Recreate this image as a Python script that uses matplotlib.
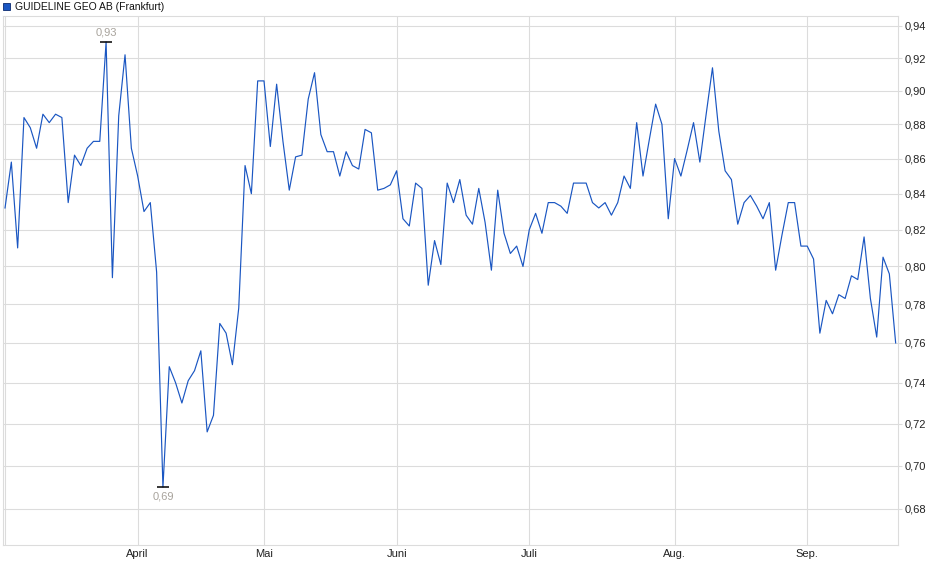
import numpy as np
import pandas as pd
import matplotlib
matplotlib.use("Agg")
import matplotlib.pyplot as plt
from matplotlib.ticker import FixedLocator, FuncFormatter, NullLocator

plt.rcParams['font.family'] = ['Liberation Sans', 'DejaVu Sans']

# trading days in Frankfurt, Mar 3 - Sep 19 2025 (holidays removed)
days = pd.bdate_range("2025-03-03", "2025-09-19")
days = days.drop(pd.to_datetime(["2025-04-18", "2025-04-21", "2025-05-01"]))

close = [
    0.832, 0.858, 0.810, 0.884, 0.878, 0.866, 0.886, 0.881, 0.886, 0.884,
    0.835, 0.862, 0.856, 0.866, 0.870, 0.870, 0.930, 0.794, 0.885, 0.922,
    0.866, 0.850, 0.830, 0.835, 0.797, 0.690, 0.748, 0.740, 0.730, 0.741,
    0.746, 0.756, 0.716, 0.724, 0.770, 0.765, 0.749, 0.778, 0.856, 0.840,
    0.906, 0.906, 0.867, 0.904, 0.870, 0.842, 0.861, 0.862, 0.895, 0.911,
    0.874, 0.864, 0.864, 0.850, 0.864, 0.856, 0.854, 0.877, 0.875, 0.842,
    0.843, 0.845, 0.853, 0.826, 0.822, 0.846, 0.843, 0.790, 0.814, 0.801,
    0.846, 0.835, 0.848, 0.828, 0.823, 0.843, 0.824, 0.798, 0.842, 0.818,
    0.807, 0.811, 0.800, 0.820, 0.829, 0.818, 0.835, 0.835, 0.833, 0.829,
    0.846, 0.846, 0.846, 0.835, 0.832, 0.835, 0.828, 0.835, 0.850, 0.843,
    0.881, 0.850, 0.871, 0.892, 0.880, 0.826, 0.860, 0.850, 0.865, 0.881,
    0.858, 0.886, 0.914, 0.876, 0.853, 0.848, 0.823, 0.835, 0.839, 0.833,
    0.826, 0.835, 0.798, 0.817, 0.835, 0.835, 0.811, 0.811, 0.804, 0.765,
    0.782, 0.775, 0.785, 0.783, 0.795, 0.793, 0.816, 0.783, 0.763, 0.805,
    0.796, 0.760,
]

month_names = ["April", "Mai", "Juni", "Juli", "Aug.", "Sep."]
y_ticks = [0.68, 0.70, 0.72, 0.74, 0.76, 0.78, 0.80, 0.82, 0.84, 0.86, 0.88, 0.90, 0.92, 0.94]

close = np.array(close)
idx = np.arange(len(close))
s = pd.Series(close, index=days)

# first trading day of each month -> position on the index axis
first_days = s.groupby(s.index.to_period("M")).head(1).index
month_pos = [days.get_loc(d) for d in first_days[1:]]

grid_col = '#dcdcdc'
line_col = '#1a56c2'

fig = plt.figure(figsize=(9.4, 5.79), dpi=100)
ax = fig.add_axes([3 / 940, 1 - 545 / 579, 895 / 940, 529 / 579])

ax.plot(idx, close, color=line_col, lw=0.85, zorder=3)

ax.set_yscale('log')
ax.set_ylim(0.6637, 0.9463)
ax.set_xlim(-0.32, 141.37)

ax.yaxis.set_major_locator(FixedLocator(y_ticks))
ax.yaxis.set_minor_locator(NullLocator())
ax.yaxis.set_major_formatter(FuncFormatter(lambda v, p: f"{v:.2f}".replace('.', ',')))
ax.yaxis.tick_right()
ax.tick_params(axis='y', length=3, width=0.8, color=grid_col, pad=2, labelsize=8, labelcolor='#222222')

ax.set_xticks(month_pos)
ax.set_xticklabels(month_names)
ax.tick_params(axis='x', length=0, pad=3, labelsize=8, labelcolor='#222222')

ax.grid(True, color=grid_col, lw=0.8)
ax.axvline(0, color=grid_col, lw=0.8)
for sp in ax.spines.values():
    sp.set_color(grid_col)
    sp.set_linewidth(0.8)

# max / min markers
i_max, i_min = int(close.argmax()), int(close.argmin())
for i, off, va in [(i_max, 3, 'bottom'), (i_min, -3, 'top')]:
    ax.plot(i, close[i], marker='_', ms=8, mew=1.1, color='black', zorder=4)
    ax.annotate(f"{close[i]:.2f}".replace('.', ','), (i, close[i]),
                textcoords="offset points", xytext=(0, off), ha='center', va=va,
                fontsize=8, color='#a8a39c')

# header
fig.patches.append(plt.Rectangle((3 / 940, 1 - 10 / 579), 7 / 940, 7 / 579,
                                 transform=fig.transFigure, facecolor=line_col,
                                 edgecolor='#0a2a70', lw=0.6))
fig.text(15 / 940, 1 - 6.5 / 579, "GUIDELINE GEO AB (Frankfurt)", fontsize=7.5,
         va='center', ha='left', color='#111111')

fig.savefig("out.png", dpi=100)
